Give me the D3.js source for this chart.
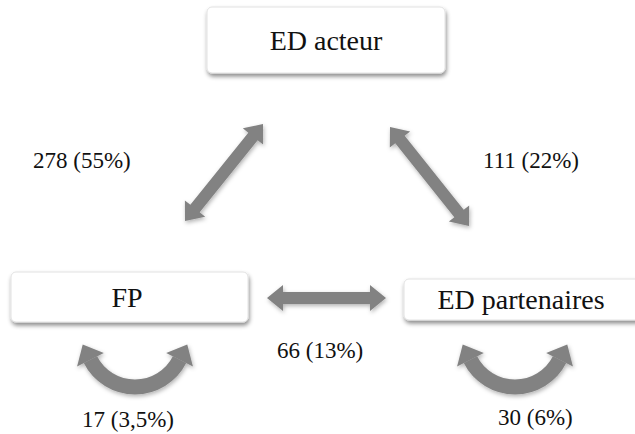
<!DOCTYPE html>
<meta charset="utf-8">
<script src="https://d3js.org/d3.v7.min.js"></script>
<svg id="my_dataviz" width="635" height="434" style="font-family: 'Times New Roman', 'Liberation Serif', Times; position: absolute; left: 0; top: 0"></svg>
<script>

// Data
var nodeNames = ["ED acteur", "FP", "ED partenaires"];
var flowCounts = [278, 111, 66, 17, 30];
var flowShares = ["55%", "22%", "13%", "3,5%", "6%"];

// Layout (positions only)
var boxes = [
  {x: 207, y: 7, w: 238, h: 66, tx: 326, ty: 50},
  {x: 11, y: 272, w: 237, h: 50, tx: 127, ty: 307},
  {x: 404, y: 279, w: 240, h: 41, tx: 521, ty: 309}
];
var straight = [
  {a: [185, 221], b: [263, 124], lx: 33, ly: 168},
  {a: [390, 127], b: [469, 226], lx: 483, ly: 168},
  {a: [267, 298], b: [386, 298], lx: 277, ly: 358}
];
var loops = [
  {cx: 135, cy: 337, lx: 82, ly: 427},
  {cx: 515, cy: 337, lx: 498, ly: 425}
];

var svg = d3.select("svg");
var grey = "#828282";

var defs = svg.append("defs");
defs.append("filter").attr("id", "shadow")
    .attr("x", "-20%").attr("y", "-20%").attr("width", "140%").attr("height", "150%")
  .append("feDropShadow")
    .attr("dx", 1).attr("dy", 3).attr("stdDeviation", 2)
    .attr("flood-color", "#000").attr("flood-opacity", 0.45);
defs.append("filter").attr("id", "ashadow")
    .attr("x", "-30%").attr("y", "-30%").attr("width", "160%").attr("height", "160%")
  .append("feDropShadow")
    .attr("dx", 1).attr("dy", 2).attr("stdDeviation", 2)
    .attr("flood-color", "#000").attr("flood-opacity", 0.3);

// Boxes
var g = svg.append("g").selectAll("g")
  .data(nodeNames)
  .enter().append("g");
g.append("rect")
    .attr("x", function(d, i){ return boxes[i].x })
    .attr("y", function(d, i){ return boxes[i].y })
    .attr("width", function(d, i){ return boxes[i].w })
    .attr("height", function(d, i){ return boxes[i].h })
    .attr("rx", 5)
    .attr("fill", "#fff")
    .attr("stroke", "#e2e2e2")
    .attr("filter", "url(#shadow)");
g.append("text")
    .attr("x", function(d, i){ return boxes[i].tx })
    .attr("y", function(d, i){ return boxes[i].ty })
    .attr("text-anchor", "middle")
    .style("fill", "#111")
    .style("font-size", "28px")
    .text(function(d){ return d });

// double-headed straight arrow polygon
function doubleArrow(a, b) {
  var dx = b[0] - a[0], dy = b[1] - a[1];
  var len = Math.sqrt(dx*dx + dy*dy);
  var ux = dx/len, uy = dy/len, nx = -uy, ny = ux;
  var w = 6, hw = 13, hl = 16;
  function pt(t, s) { return [a[0] + ux*t + nx*s, a[1] + uy*t + ny*s] }
  return [pt(0, 0), pt(hl, hw), pt(hl, w), pt(len-hl, w), pt(len-hl, hw), pt(len, 0),
          pt(len-hl, -hw), pt(len-hl, -w), pt(hl, -w), pt(hl, -hw)];
}

svg.append("g").selectAll("polygon")
  .data(straight)
  .enter().append("polygon")
    .attr("points", function(d){ return doubleArrow(d.a, d.b).join(" ") })
    .attr("fill", grey)
    .attr("filter", "url(#ashadow)");

// curved self-loop arrows
var r = 50, th = 1.1, aw = 7.5;
var arc = d3.arc()
    .innerRadius(r - aw).outerRadius(r + aw)
    .startAngle(Math.PI - th).endAngle(Math.PI + th);

function heads(d) {
  var out = [];
  [-1, 1].forEach(function(s){
    var px = d.cx + s*r*Math.sin(th), py = d.cy + r*Math.cos(th);
    var tx = s*Math.cos(th), ty = -Math.sin(th);     // tangent, pointing away
    var nx = -ty, ny = tx;
    var hw = 15, hl = 17;
    out.push([[px + nx*hw, py + ny*hw], [px + tx*hl, py + ty*hl], [px - nx*hw, py - ny*hw]]);
  });
  return out;
}

var lg = svg.append("g").selectAll("g")
  .data(loops)
  .enter().append("g")
    .attr("filter", "url(#ashadow)");
lg.append("path")
    .attr("transform", function(d){ return "translate(" + d.cx + "," + d.cy + ")" })
    .attr("d", arc())
    .attr("fill", grey);
lg.selectAll("polygon")
  .data(function(d){ return heads(d) })
  .enter().append("polygon")
    .attr("points", function(d){ return d.join(" ") })
    .attr("fill", grey);

// Labels
var labelPos = straight.concat(loops);
svg.append("g").selectAll("text")
  .data(flowCounts)
  .enter().append("text")
    .attr("x", function(d, i){ return labelPos[i].lx })
    .attr("y", function(d, i){ return labelPos[i].ly })
    .style("fill", "#111")
    .style("font-size", "23px")
    .text(function(d, i){ return d + " (" + flowShares[i] + ")" });

</script>
